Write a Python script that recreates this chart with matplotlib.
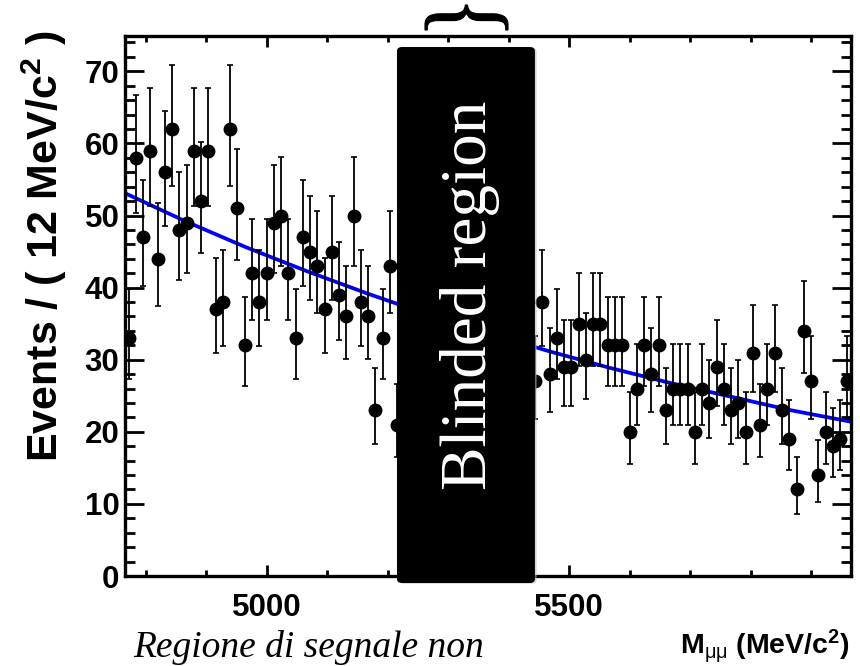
import numpy as np
import matplotlib
matplotlib.use("Agg")
import matplotlib.pyplot as plt
from matplotlib.patches import FancyBboxPatch, PathPatch
from matplotlib.textpath import TextPath
from matplotlib.font_manager import FontProperties
from matplotlib.transforms import Affine2D, IdentityTransform
from matplotlib.ticker import MultipleLocator

# binning: 100 bins of 12 MeV/c2 from 4766 to 5966, bins 38..55 are blinded
mass_lo = 4766
mass_hi = 5966
bin_width = 12

# sideband below the signal region (bins 0..37)
low_first_bin = 0
low_counts = [33, 58, 47, 59, 44, 56, 62, 48, 49, 59, 52, 59, 37, 38, 62, 51,
              32, 42, 38, 42, 49, 50, 42, 33, 47, 45, 43, 37, 45, 39, 36, 50,
              38, 36, 23, 33, 43, 21]

# sideband above the signal region (bins 56..99)
high_first_bin = 56
high_counts = [27, 38, 28, 33, 29, 29, 35, 30, 35, 35, 32, 32, 32, 20, 26, 32,
               28, 32, 23, 26, 26, 26, 20, 26, 24, 29, 26, 23, 24, 20, 31, 21,
               26, 31, 23, 19, 12, 34, 27, 14, 20, 18, 19, 27]

# background fit curve
fit_mass = [4766, 4866, 4966, 5066, 5166, 5266, 5366, 5466, 5566, 5666, 5766, 5866, 5966]
fit_events = [53.1, 49.2, 45.6, 42.3, 39.2, 36.3, 33.7, 31.2, 28.9, 26.8, 24.9, 23.0, 21.4]


def poisson_interval(n):
    # Gehrels approximation of the 68% Poisson interval
    n = np.asarray(n, dtype=float)
    up = n + np.sqrt(n + 0.75) + 1.0
    lo = n * (1 - 1 / (9 * n) - 1 / (3 * np.sqrt(n))) ** 3
    return n - lo, up - n


def centers(first_bin, counts):
    idx = np.arange(first_bin, first_bin + len(counts))
    return mass_lo + bin_width * (idx + 0.5)


sans = 'Liberation Sans'
plt.rcParams['mathtext.fontset'] = 'custom'
plt.rcParams['mathtext.rm'] = 'Liberation Sans:bold'
plt.rcParams['mathtext.bf'] = 'Liberation Sans:bold'
plt.rcParams['mathtext.it'] = 'Liberation Sans'

fig = plt.figure(figsize=(8.6, 6.66), dpi=100)
ax = fig.add_axes([0.1453, 0.1351, 0.8442, 0.8109])

ax.plot(fit_mass, fit_events, color='#0000ff', lw=2.7, zorder=2)

for first, cts in [(low_first_bin, low_counts), (high_first_bin, high_counts)]:
    lo, hi = poisson_interval(cts)
    ax.errorbar(centers(first, cts), cts, yerr=[lo, hi], fmt='o', color='black',
                ms=9, elinewidth=1.3, capsize=2.2, capthick=1.2, zorder=3)

ax.set_xlim(mass_lo, mass_hi)
ax.set_ylim(0, 74.9)
ax.xaxis.set_major_locator(MultipleLocator(500))
ax.xaxis.set_minor_locator(MultipleLocator(100))
ax.yaxis.set_major_locator(MultipleLocator(10))
ax.yaxis.set_minor_locator(MultipleLocator(2))
ax.tick_params(which='both', direction='in', top=True, right=True, width=2)
ax.tick_params(axis='x', which='major', length=8, pad=12)
ax.tick_params(axis='x', which='minor', length=4)
ax.tick_params(axis='y', which='major', length=14, pad=4)
ax.tick_params(axis='y', which='minor', length=7)
for sp in ax.spines.values():
    sp.set_linewidth(2.4)
for lab in ax.get_xticklabels() + ax.get_yticklabels():
    lab.set_fontfamily(sans)
    lab.set_fontweight('bold')
    lab.set_fontsize(22.5)

fig.text(0.052, 0.955, 'Events / ( 12 MeV/c$^{2}$ )', rotation=90,
         fontfamily=sans, fontweight='bold', fontsize=31,
         ha='center', va='top')
fig.text(0.988, 0.018, r'M$_{\mathit{\mu\mu}}$ (MeV/c$^{2}$)', fontfamily=sans,
         fontweight='bold', fontsize=20.5, ha='right', va='baseline')

# blinded region overlay
box = FancyBboxPatch((0.4616, 0.1246), 0.1604, 0.8048,
                     boxstyle='round,pad=0,rounding_size=0.006',
                     transform=fig.transFigure, facecolor='black',
                     edgecolor='none', zorder=10)
shadow = FancyBboxPatch((0.4636, 0.1236), 0.1604, 0.8048,
                        boxstyle='round,pad=0,rounding_size=0.006',
                        transform=fig.transFigure, facecolor='#bbbbbb',
                        edgecolor='none', alpha=0.6, zorder=9)
fig.add_artist(shadow)
fig.add_artist(box)
fig.text(0.546, 0.557, 'Blinded region', rotation=90, color='white',
         fontfamily='Liberation Serif', fontsize=47, ha='center', va='center',
         zorder=11)

# horizontal brace above the box, squeezed into its pixel box
tp = TextPath((0, 0), '}', size=100, prop=FontProperties(family='Liberation Serif'))
ext = tp.get_extents()
x0, x1, y0, y1 = 425, 508, 666 - 30, 666 - 5
tr = (Affine2D().translate(-ext.x0, -ext.y0).rotate_deg(90)
      .translate(ext.height, 0)
      .scale((x1 - x0) / ext.height, (y1 - y0) / ext.width)
      .translate(x0, y0))
fig.add_artist(PathPatch(tp, transform=tr + IdentityTransform(),
                         facecolor='black', edgecolor='black', lw=0.8))

fig.text(0.155, 0.013, 'Regione di segnale non', fontfamily='Liberation Serif',
         style='italic', fontsize=27, ha='left', va='baseline')

fig.savefig('out.png', dpi=100)
